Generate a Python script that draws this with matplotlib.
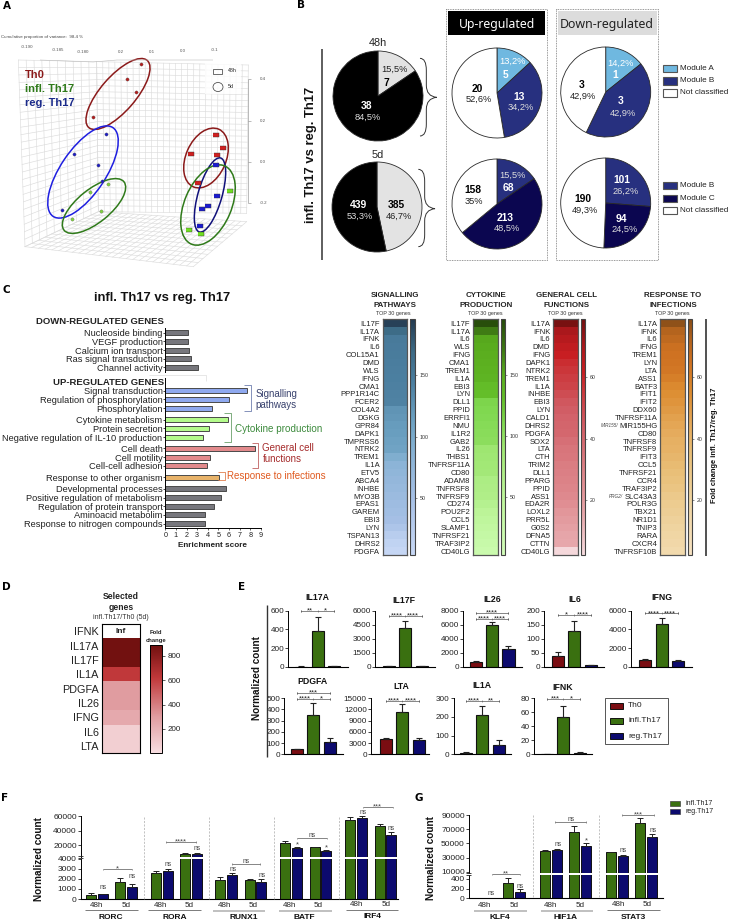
import matplotlib
matplotlib.use('Agg')
import matplotlib.pyplot as plt
from matplotlib.colors import LinearSegmentedColormap, Normalize
from matplotlib.patches import Ellipse, PathPatch, Rectangle
from matplotlib.path import Path
import numpy as np

plt.rcParams['font.family'] = ['Liberation Sans', 'DejaVu Sans']

# ---- panel A, PCA points (plot units)
pca_th0_5d = [(141, 64), (127, 79), (136, 92), (93, 117)]
pca_reg_5d = [(106, 134), (74, 154), (98, 165), (102, 181), (62, 210)]
pca_inf_5d = [(108, 184), (90, 192), (101, 211), (72, 219)]
pca_th0_48 = [(216, 135), (223, 148), (191, 154), (217, 155), (198, 183)]
pca_reg_48 = [(216, 165), (217, 196), (202, 209), (208, 206), (200, 226)]
pca_inf_48 = [(230, 191), (189, 230), (201, 234)]

# ---- panel B
pie_left_48 = [7, 38]
pie_left_5d = [385, 439]
pie_up_48 = [5, 13, 20]
pie_up_5d = [68, 213, 158]
pie_down_48 = [1, 3, 3]
pie_down_5d = [101, 94, 190]

# ---- panel C enrichment
down_terms = ['Nucleoside binding', 'VEGF production', 'Calcium ion transport', 'Ras signal transduction', 'Channel activity']
down_scores = [2.1, 2.16, 2.2, 2.45, 3.07]
signal_terms = ['Signal transduction', 'Regulation of phosphorylation', 'Phosphorylation']
signal_scores = [7.65, 5.96, 4.36]
cyto_terms = ['Cytokine metabolism', 'Protein secretion', 'Negative regulation of IL-10 production']
cyto_scores = [5.9, 4.14, 3.57]
cell_terms = ['Cell death', 'Cell motility', 'Cell-cell adhesion']
cell_scores = [8.43, 4.17, 3.95]
infect_terms = ['Response to other organism']
infect_scores = [5.08]
other_terms = ['Developmental processes', 'Positive regulation of metabolism', 'Regulation of protein transport', 'Aminoacid metabolim', 'Response to nitrogen compounds']
other_scores = [5.7, 5.24, 4.55, 3.73, 3.7]

# ---- panel C heatmaps
genes_signal = ['IL17F', 'IL17A', 'IFNK', 'IL6', 'COL15A1', 'DMD', 'WLS', 'IFNG', 'CMA1', 'PPP1R14C', 'FCER2', 'COL4A2', 'DGKG', 'GPR84', 'DAPK1', 'TMPRSS6', 'NTRK2', 'TREM1', 'IL1A', 'ETV5', 'ABCA4', 'INHBE', 'MYO3B', 'EPAS1', 'GAREM', 'EBI3', 'LYN', 'TSPAN13', 'DHRS2', 'PDGFA']
fold_signal = [192, 168, 150, 148, 147, 146, 145, 144, 143, 142, 141, 125, 122, 118, 116, 112, 110, 95, 80, 76, 72, 68, 64, 60, 56, 52, 40, 25, 14, 8]
genes_cyto = ['IL17F', 'IL17A', 'IL6', 'WLS', 'IFNG', 'CMA1', 'TREM1', 'IL1A', 'EBI3', 'LYN', 'DLL1', 'PPID', 'ERRFI1', 'NMU', 'IL1R2', 'GAB2', 'IL26', 'THBS1', 'TNFRSF11A', 'CD80', 'ADAM8', 'TNFRSF8', 'TNFRSF9', 'CD274', 'POU2F2', 'CCL5', 'SLAMF1', 'TNFRSF21', 'TRAF3IP2', 'CD40LG']
fold_cyto = [192, 170, 152, 150, 148, 146, 144, 142, 132, 130, 112, 110, 108, 106, 104, 102, 90, 88, 86, 84, 72, 70, 68, 60, 52, 46, 40, 34, 28, 22]
genes_cell = ['IL17A', 'IFNK', 'IL6', 'DMD', 'IFNG', 'DAPK1', 'NTRK2', 'TREM1', 'IL1A', 'INHBE', 'EBI3', 'LYN', 'CALD1', 'DHRS2', 'PDGFA', 'SOX2', 'LTA', 'CTH', 'TRIM2', 'DLL1', 'PPARG', 'PPID', 'ASS1', 'EDA2R', 'LOXL2', 'PRR5L', 'G0S2', 'DFNA5', 'CTTN', 'CD40LG']
fold_cell = [78, 70, 67, 64, 62, 58, 56, 54, 52, 49, 46, 44, 42, 41, 40, 37, 35, 34, 32, 31, 30, 29, 27, 25, 22, 20, 18, 16, 15, 3]
genes_infect = ['IL17A', 'IFNK', 'IL6', 'IFNG', 'TREM1', 'LYN', 'LTA', 'ASS1', 'BATF3', 'IFIT1', 'IFIT2', 'DDX60', 'TNFRSF11A', 'MIR155HG', 'CD80', 'TNFRSF8', 'TNFRSF9', 'IFIT3', 'CCL5', 'TNFRSF21', 'CCR4', 'TRAF3IP2', 'SLC43A3', 'POLR3G', 'TBX21', 'NR1D1', 'TNIP3', 'RARA', 'CXCR4', 'TNFRSF10B']
fold_infect = [78, 72, 69, 66, 65, 64, 63, 60, 56, 54, 52, 50, 48, 46, 44, 42, 41, 39, 37, 35, 33, 31, 28, 26, 24, 22, 20, 18, 16, 13]

# ---- panel D
genes_selected = ['IFNK', 'IL17A', 'IL17F', 'IL1A', 'PDGFA', 'IL26', 'IFNG', 'IL6', 'LTA']
fold_selected = [np.nan, 880, 880, 620, 300, 300, 240, 70, 70]

# ---- panel E
e_genes = ['IL17A', 'IL17F', 'IL26', 'IL6', 'IFNG', 'PDGFA', 'LTA', 'IL1A', 'IFNK']
e_th0 = [2, 30, 700, 40, 750, 45, 4000, 8, 0]
e_th0_err = [1, 10, 100, 13, 50, 4, 300, 4, 0]
e_inf = [380, 4150, 5950, 127, 4550, 350, 11300, 210, 53]
e_inf_err = [155, 780, 500, 38, 630, 105, 2000, 45, 15]
e_reg = [6, 40, 2550, 5, 580, 105, 3700, 50, 2]
e_reg_err = [2, 10, 450, 2, 100, 37, 700, 25, 1]
e_yticks = [[0, 200, 400, 600], [0, 1500, 3000, 4500, 6000], [0, 2000, 4000, 6000, 8000], [0, 50, 100, 150, 200], [0, 2000, 4000, 6000],
            [0, 100, 200, 300, 400, 500], [0, 3000, 6000, 9000, 12000, 15000], [0, 100, 200, 300], [0, 20, 40, 60, 80]]
e_sig_y = [600, 5430, 6760, 185, 5710, 491, 14100, 282, 79]
e_sig_labels = [('**', '*'), ('****', '****'), ('****', '****'), ('*', '****'), ('****', '****'), ('****', '*'), ('****', '****'), ('****', '**'), ('***', '*')]

# ---- panel F, order in each gene: 48h infl, 48h reg, 5d infl, 5d reg
f_genes = ['RORC', 'RORA', 'RUNX1', 'BATF', 'IRF4']
f_values = [[400, 460, 1700, 1210], [2520, 2720, 7800, 7900], [1840, 2330, 1840, 1700], [22400, 16000, 17000, 12000], [54700, 56600, 45700, 34200]]
f_errs = [[160, 60, 400, 230], [270, 200, 800, 700], [290, 190, 160, 230], [3200, 1800, 500, 1300], [4100, 3500, 2700, 3800]]
f_yticks_low = [0, 1000, 2000, 3000, 4000]
f_yticks_up = [20000, 40000, 60000]

# ---- panel G
g_genes = ['KLF4', 'HIF1A', 'STAT3']
g_values = [[8, 8, 310, 138], [39200, 40000, 65600, 45800], [37400, 32600, 78300, 58500]]
g_errs = [[2, 2, 118, 48], [1500, 1500, 8400, 5200], [700, 500, 7000, 4200]]
g_yticks_low = [0, 200, 400]
g_yticks_up = [10000, 30000, 50000, 70000, 90000]

W, H = 732, 922
C_TH0, C_INF, C_REG = '#7a0d12', '#3a7010', '#0c0a6e'
MOD_A, MOD_B, MOD_C = '#6fb8e0', '#27307f', '#0b0650'
TXT = '#222222'

fig = plt.figure(figsize=(W / 100, H / 100), dpi=100)


def ax_px(left, top, right, bottom, **kw):
    return fig.add_axes([left / W, 1 - bottom / H, (right - left) / W, (bottom - top) / H], **kw)


# overlay in pixel coordinates for the annotations
page = ax_px(0, 0, W, H, zorder=20)
page.set_xlim(0, W)
page.set_ylim(H, 0)
page.axis('off')
page.patch.set_alpha(0)


def txt(x, y, s, size=6, color=TXT, ha='center', va='center', **kw):
    page.text(x, y, s, fontsize=size, color=color, ha=ha, va=va, **kw)


def seg(xs, ys, color='#333333', lw=0.7, **kw):
    page.plot(xs, ys, color=color, lw=lw, solid_capstyle='butt', **kw)


for letter, lx, ly in [('A', 7, 6), ('B', 301, 5), ('C', 6, 290), ('D', 6, 587), ('E', 242, 587), ('F', 5, 798), ('G', 419, 798)]:
    txt(lx, ly, letter, size=7.5, color='black', fontweight='bold', family='DejaVu Sans')

# ------------------------------------------------------------- A
pca = ax_px(0, 0, 290, 280, zorder=1)
pca.set_xlim(0, 290)
pca.set_ylim(280, 0)
pca.axis('off')


def wall(corners, nu, nv):
    c = np.array(corners, dtype=float) / 3
    for u in np.linspace(0, 1, nu):
        a = c[0] + (c[1] - c[0]) * u
        b = c[3] + (c[2] - c[3]) * u
        pca.plot([a[0], b[0]], [a[1], b[1]], color='#dcdcdc', lw=0.45)
    for v in np.linspace(0, 1, nv):
        a = c[0] + (c[3] - c[0]) * v
        b = c[1] + (c[2] - c[1]) * v
        pca.plot([a[0], b[0]], [a[1], b[1]], color='#dcdcdc', lw=0.45)


wall([(55, 180), (290, 185), (295, 635), (75, 740)], 11, 26)
wall([(290, 185), (745, 195), (740, 640), (295, 635)], 26, 26)
wall([(295, 635), (740, 665), (580, 800), (75, 740)], 26, 12)

for (cx, cy, w, h, ang, col) in [(118, 94, 89, 35, -49, '#8b1a1a'), (83, 172, 107, 45, -56, '#1f1fe0'), (94, 206, 77, 33, -39, '#2f7a1a'),
                                 (206, 158, 63, 40, -66, '#8b1a1a'), (210, 195, 77, 24, -74, '#10107a'), (208, 205, 85, 47, -67, '#2f7a1a')]:
    pca.add_patch(Ellipse((cx, cy), w, h, angle=ang, fill=False, edgecolor=col, lw=1.1, zorder=4))

flat_box = [(-1, -0.7), (1, -0.7), (1, 0.7), (-1, 0.7)]
for pts, col in [(pca_th0_5d, '#b02020'), (pca_reg_5d, '#2020c0'), (pca_inf_5d, '#80d040')]:
    pca.scatter(*zip(*pts), s=5.5, color=col, edgecolors='#555555', linewidths=0.2, zorder=5)
for pts, col in [(pca_th0_48, '#d02020'), (pca_reg_48, '#1a1ad0'), (pca_inf_48, '#70e020')]:
    pca.scatter(*zip(*pts), s=15, marker=flat_box, color=col, edgecolors='#333333', linewidths=0.3, zorder=5)

txt(1, 37, 'Cumulative proportion of variance:  98.4 %', size=3.2, ha='left', color='#444444')
for tx, ty, s in [(27, 47, '-0.190'), (58, 50, '-0.185'), (83, 52, '-0.180'), (121, 52, '0.2'), (152, 52, '0.1'), (183, 51, '0.0'), (215, 50, '-0.1')]:
    txt(tx, ty, s, size=3.2, color='#555555')
for ty, s in [(79, '0.4'), (121, '0.2'), (162, '0.0'), (203, '-0.2')]:
    txt(260, ty, s, size=3.2, ha='left', color='#555555')
    seg([248, 251], [ty, ty], color='#888888', lw=0.4)
seg([248, 248], [79, 203], color='#888888', lw=0.4)
seg([40, 93, 117, 213], [60, 62, 60, 60], color='#bbbbbb', lw=0.4)
page.add_patch(Rectangle((205, 62), 36, 32, color='white', alpha=0.8, lw=0))
page.add_patch(Rectangle((213, 69), 9, 5, fill=False, edgecolor='#333333', lw=0.5))
page.add_patch(Ellipse((218, 87), 10, 9, fill=False, edgecolor='#333333', lw=0.5))
txt(228, 71, '48h', size=3.8, ha='left')
txt(228, 87, '5d', size=3.8, ha='left')
txt(25, 75, 'Th0', size=8, ha='left', color='#8b1a1a', fontweight='bold')
txt(25, 89, 'infl. Th17', size=8, ha='left', color='#2f7a1a', fontweight='bold')
txt(25, 103.5, 'reg. Th17', size=8, ha='left', color='#1a2a8a', fontweight='bold')


# ------------------------------------------------------------- B
def z2(x, y):
    return 290 + x / 3, y / 3


def pie(cx, cy, values, colors):
    r = 45 * 1.04
    ax = ax_px(cx - r, cy - r, cx + r, cy + r, zorder=2)
    ax.pie(values, colors=colors, startangle=90, counterclock=False, radius=1,
           wedgeprops={'edgecolor': '#2a2a2a', 'linewidth': 0.6})
    ax.set_xlim(-1.04, 1.04)
    ax.set_ylim(-1.04, 1.04)


pie(378, 96, pie_left_48, ['#e3e3e3', 'black'])
pie(377, 207, pie_left_5d, ['#e3e3e3', 'black'])
pie(497, 93, pie_up_48, [MOD_A, MOD_B, 'white'])
pie(497, 204, pie_up_5d, [MOD_B, MOD_C, 'white'])
pie(605.7, 92, pie_down_48, [MOD_A, MOD_B, 'white'])
pie(605.7, 203, pie_down_5d, [MOD_B, MOD_C, 'white'])

LG = '#dddddd'
pie_labels = [
    (314, 208, '15,5%', 0, '#222222'), (290, 250, '7', 1, 'black'), (229, 318, '38', 1, 'white'), (234, 353, '84,5%', 0, LG),
    (205, 615, '439', 1, 'white'), (208, 650, '53,3%', 0, LG), (320, 615, '385', 1, 'black'), (328, 650, '46,7%', 0, '#222222'),
    (668, 185, '13,2%', 0, 'white'), (647, 224, '5', 1, 'white'), (688, 292, '13', 1, 'white'), (693, 323, '34,2%', 0, LG),
    (561, 267, '20', 1, 'black'), (566, 297, '52,6%', 0, '#222222'),
    (992, 190, '14,2%', 0, 'white'), (975, 226, '1', 1, 'white'), (992, 302, '3', 1, 'white'), (998, 340, '42,9%', 0, LG),
    (875, 254, '3', 1, 'black'), (880, 290, '42,9%', 0, '#222222'),
    (668, 527, '15,5%', 0, LG), (656, 564, '68', 1, 'white'), (645, 654, '213', 1, 'white'), (652, 686, '48,5%', 0, LG),
    (548, 571, '158', 1, 'black'), (553, 604, '35%', 0, '#222222'),
    (996, 541, '101', 1, 'white'), (1006, 575, '26,2%', 0, LG), (995, 656, '94', 1, 'white'), (1003, 689, '24,5%', 0, LG),
    (880, 598, '190', 1, 'black'), (885, 631, '49,3%', 0, '#222222'),
]
for zx, zy, s, is_bold, col in pie_labels:
    px, py = z2(zx, zy)
    txt(px, py, s, size=7.4 if is_bold else 6.7, color=col, fontweight='bold' if is_bold else 'normal')

txt(*z2(265, 130), '48h', size=7.8)
txt(*z2(262, 465), '5d', size=7.8)
seg([322, 322], [49, 260], color='#333333', lw=1.1)
txt(311, 155, 'infl. Th17 vs reg. Th17', size=9.4, rotation=90, fontweight='bold', color='#111111')

for bx0, bx1 in [(445.7, 547.3), (555.7, 657.7)]:
    page.add_patch(Rectangle((bx0, 9), bx1 - bx0, 251, fill=False, edgecolor='#777777', lw=0.6, ls=(0, (1, 1))))
page.add_patch(Rectangle((448, 11), 97, 24, color='black', lw=0))
page.add_patch(Rectangle((558, 11), 98.7, 24, color='#dcdcdc', lw=0))
txt(496.5, 24.5, 'Up-regulated', size=8.8, color='white', family='Noto Sans')
txt(607, 24.5, 'Down-regulated', size=8.9, color='#222222', family='Noto Sans')


def brace(x0, x1, y0, y1, ytip):
    xm = (x0 + x1) / 2 - 2
    verts = [(x0, y0), (xm, y0), (xm, y0 + 12), (xm, ytip - 12), (xm, ytip - 1), (x1, ytip),
             (xm, ytip + 1), (xm, ytip + 12), (xm, y1 - 12), (xm, y1), (x0, y1)]
    codes = [Path.MOVETO, Path.CURVE3, Path.CURVE3, Path.LINETO, Path.CURVE3, Path.CURVE3,
             Path.CURVE3, Path.CURVE3, Path.LINETO, Path.CURVE3, Path.CURVE3]
    page.add_patch(PathPatch(Path(verts, codes), fill=False, edgecolor='#333333', lw=0.7))


brace(290 + 390 / 3, 290 + 440 / 3, 175 / 3, 408 / 3, 292 / 3)
brace(290 + 385 / 3, 290 + 435 / 3, 508 / 3, 740 / 3, 626 / 3)

for labels, cols, ys in [(['Module A', 'Module B', 'Not classified'], [MOD_A, MOD_B, 'white'], [205, 243, 279]),
                         (['Module B', 'Module C', 'Not classified'], [MOD_B, MOD_C, 'white'], [557, 595, 632])]:
    for lab, col, ly in zip(labels, cols, ys):
        lx0, ly0 = z2(1119, ly - 11)
        page.add_patch(Rectangle((lx0, ly0), 14.3, 7.3, facecolor=col, edgecolor='#555555', lw=0.8))
        txt(*z2(1170, ly), lab, size=5.9, ha='left')

# ------------------------------------------------------------- C bars
txt(161.7, 298, 'infl. Th17 vs reg. Th17', size=9.4, fontweight='bold', color='#111111')
txt(164, 321.3, 'DOWN-REGULATED GENES', size=6.8, ha='right', fontweight='bold')
txt(164, 382.7, 'UP-REGULATED GENES', size=6.8, ha='right', fontweight='bold')

groups = [(down_terms, down_scores, '#77777d', 0), (signal_terms, signal_scores, '#8fa9ef', 1.69), (cyto_terms, cyto_scores, '#b4fb8c', 0.35),
          (cell_terms, cell_scores, '#e28a8c', 0.31), (infect_terms, infect_scores, '#e8b36a', 0.31), (other_terms, other_scores, '#77777d', 0.35)]
row_h = 8.67
y_top, y_bot = 328.0, 527.5
bx = ax_px(165.3, y_top, 261, y_bot, zorder=3)
bx.set_xlim(0, 9)
bx.set_ylim((y_bot - 332.7) / row_h, (y_top - 332.7) / row_h)
rows, row_labels = [], []
r = 0.0
for terms, scores, col, gap in groups:
    r += gap
    gr = [r + i for i in range(len(terms))]
    bx.barh(gr, scores, height=0.58, color=col, edgecolor='#4a4a4a', linewidth=0.7)
    rows += gr
    row_labels += terms
    r = gr[-1] + 1
bx.set_yticks(rows)
bx.set_yticklabels(row_labels, fontsize=6.7, color=TXT)
bx.set_xticks(range(10))
bx.tick_params(axis='x', labelsize=5.2, length=1.5, width=0.5, pad=1.5, colors=TXT)
bx.tick_params(axis='y', length=1.5, width=0.5, pad=0.5)
for s in ['top', 'right']:
    bx.spines[s].set_visible(False)
for s in ['left', 'bottom']:
    bx.spines[s].set_linewidth(0.7)
page.add_patch(Rectangle((163, 372.5), 5, 5.5, color='white', lw=0))
seg([149, 205.5, 205.5], [375.5, 375.5, 381], color='#dddddd', lw=0.5)
txt(213, 545.5, 'Enrichment score', size=5.9, fontweight='bold')


def bracket3(x0, x1, y0, y1, col):
    seg([x0, x1, x1, x0], [y0, y0, y1, y1], color=col, lw=0.6)


bracket3(244, 250.5, 384.5, 411, '#7080b0')
txt(255.5, 393.5, 'Signalling', size=7, ha='left', color='#39426e')
txt(255.5, 405, 'pathways', size=7, ha='left', color='#39426e')
bracket3(224, 231, 413, 441.5, '#6aa06a')
txt(235, 429, 'Cytokine production', size=7.1, ha='left', color='#3c8a3c')
bracket3(251.5, 258, 442.5, 467.5, '#c06060')
txt(262.5, 448, 'General cell', size=7, ha='left', color='#a52a2a')
txt(262.5, 459, 'functions', size=7, ha='left', color='#a52a2a')
bracket3(217.5, 225, 471.5, 480, '#e08050')
txt(227, 476, 'Response to infections', size=7, ha='left', color='#e05a20')

# ------------------------------------------------------------- C heatmaps
heat_top, heat_bot = 319.3, 555.0


def anchored(anchors, vmin, vmax):
    pts = [((v - vmin) / (vmax - vmin), c) for v, c in anchors]
    return LinearSegmentedColormap.from_list('c', pts)


def heat_column(x0, x1, cx0, cx1, genes, fold, cmap, vmin, vmax, ticks, title, tcx):
    ax = ax_px(x0, heat_top, x1, heat_bot, zorder=3)
    norm = Normalize(vmin, vmax)
    mesh = ax.pcolormesh(np.array(fold, dtype=float).reshape(-1, 1), cmap=cmap, norm=norm)
    ax.set_ylim(len(genes), 0)
    ax.set_xticks([])
    ax.set_yticks(np.arange(len(genes)) + 0.5)
    ax.set_yticklabels(genes, fontsize=5.5, color=TXT)
    ax.tick_params(axis='y', length=0, pad=2.2)
    for s in ax.spines.values():
        s.set_linewidth(0.9)
        s.set_edgecolor('#555555')
    cax = ax_px(cx0, heat_top, cx1, heat_bot, zorder=3)
    cb = fig.colorbar(mesh, cax=cax, ticks=ticks)
    cb.ax.tick_params(labelsize=3.8, length=1.5, width=0.4, pad=2, colors='#333333')
    cb.outline.set_linewidth(0.8)
    cb.outline.set_edgecolor('#444444')
    txt(tcx, 295.7, title[0], size=5.7, fontweight='bold', color='#222222')
    txt(tcx, 305.3, title[1], size=5.7, fontweight='bold', color='#222222')
    txt(tcx - 1, 313.8, 'TOP 30 genes', size=3.9, color='#333333')


cm_signal = anchored([(3, '#c8d8f5'), (50, '#a6c0e6'), (95, '#80aecf'), (115, '#6a9fc0'), (145, '#4b7e9f'), (170, '#3c6a85'), (196, '#243a50')], 3, 196)
cm_cyto = anchored([(3, '#d2fdba'), (50, '#bdf59a'), (90, '#9fe672'), (110, '#80d850'), (130, '#64be2a'), (150, '#5aad1e'), (170, '#3f7b14'), (195, '#264a0a')], 3, 195)
cm_cell = anchored([(2, '#f6dcdf'), (15, '#e7a7ab'), (30, '#dc8287'), (45, '#d05a62'), (55, '#cc3a3e'), (62, '#c81e22'), (70, '#ac181c'), (79, '#721010')], 2, 79)
cm_infect = anchored([(2, '#f6e2c2'), (20, '#efd4a0'), (35, '#e9bf78'), (45, '#e5a95a'), (55, '#dc8c30'), (65, '#cf7222'), (72, '#b4641e'), (79, '#8a4e18')], 2, 79)

heat_column(382.7, 407, 410.3, 414.7, genes_signal, fold_signal, cm_signal, 3, 196, [50, 100, 150], ('SIGNALLING', 'PATHWAYS'), 394.7)
heat_column(473.3, 497.7, 500.7, 505, genes_cyto, fold_cyto, cm_cyto, 3, 195, [50, 100, 150], ('CYTOKINE', 'PRODUCTION'), 486)
heat_column(553.3, 577.7, 581, 585, genes_cell, fold_cell, cm_cell, 2, 79, [20, 40, 60], ('GENERAL CELL', 'FUNCTIONS'), 566.7)
heat_column(660.3, 684.7, 687.7, 691.7, genes_infect, fold_infect, cm_infect, 2, 79, [20, 40, 60], ('RESPONSE TO', 'INFECTIONS'), 673)
txt(618.3, 319.3 + 13.5 * 7.87, 'MIR155/', size=3.3, ha='right', style='italic', color='#444444')
txt(623.3, 319.3 + 22.5 * 7.87, 'PRG2/', size=3.3, ha='right', style='italic', color='#444444')
seg([706, 706], [319, 556], color='#222222', lw=1.1)
txt(714, 445, 'Fold change infl. Th17/reg. Th17', size=5.4, rotation=90, fontweight='bold', color='#111111')

# ------------------------------------------------------------- D
dx = ax_px(102.3, 624, 140.3, 753.3, zorder=3)
cm_d = anchored([(0, '#f8dee1'), (300, '#e09ca0'), (620, '#c0383a'), (888, '#70100f')], 0, 888)
md = dx.pcolormesh(np.array(fold_selected).reshape(-1, 1), cmap=cm_d, norm=Normalize(0, 888))
dx.set_ylim(len(genes_selected), 0)
dx.set_xticks([])
dx.set_yticks(np.arange(len(genes_selected)) + 0.5)
dx.set_yticklabels(genes_selected, fontsize=7.8, color=TXT)
dx.tick_params(axis='y', length=0, pad=2.5)
for s in dx.spines.values():
    s.set_linewidth(0.8)
dcax = ax_px(150.3, 645, 162, 753.3, zorder=3)
dcb = fig.colorbar(md, cax=dcax, ticks=[200, 400, 600, 800])
dcb.ax.tick_params(labelsize=5.8, length=2, width=0.5, pad=2, colors=TXT)
dcb.outline.set_linewidth(0.7)
txt(120.7, 631, 'Inf', size=6, fontweight='bold')
txt(120.7, 596, 'Selected', size=6.2, fontweight='bold')
txt(120.7, 607, 'genes', size=6.2, fontweight='bold')
txt(120.7, 617.3, 'infl.Th17/Th0 (5d)', size=5, color='#333333')
txt(156, 632, 'Fold', size=4.2, fontweight='bold')
txt(156, 640, 'change', size=4.2, fontweight='bold')

# ------------------------------------------------------------- E
# left spine, right end, first bar centre, y of top tick, y of zero
e_layout = [(288.3, 347.7, 301.3, 610.7, 666.7), (375, 434.7, 388.8, 610.7, 666.7), (463.3, 521.7, 475.7, 610.7, 666.7),
            (544.3, 604.3, 558, 610.7, 666.7), (631.3, 691.7, 645.3, 610.7, 666.7),
            (284.3, 343, 297, 698, 754.3), (371, 429.3, 386, 698, 754.3), (453.7, 510.7, 466, 698, 754.3), (534, 591.7, 547, 698, 754.3)]
e_titles = [(317.7, 597.7), (404.3, 600), (492, 599), (574.7, 599), (661.7, 597), (313, 681.7), (401.7, 686.7), (482.3, 685), (562.3, 687.7)]


def star_note(ax, s, x, y):
    ax.annotate(s, (x, y), ha='center', va='center', fontsize=5.6, color=TXT, annotation_clip=False)


def small_sig(ax, x0, x1, y, labels=None, single=None):
    ax.plot([x0, x1], [y, y], color='#555555', lw=0.5, clip_on=False)
    for xv in (x0, x1):
        ax.plot([xv, xv], [y, y], marker='|', ms=1.8, mew=0.4, color='#555555', clip_on=False)
    mid = (x0 + x1) / 2
    if labels:
        ax.plot([mid], [y], marker='|', ms=1.8, mew=0.4, color='#555555', clip_on=False)
        star_note(ax, labels[0], (x0 + mid) / 2, y)
        star_note(ax, labels[1], (mid + x1) / 2, y)
    if single:
        star_note(ax, single, mid, y)


for i, gene in enumerate(e_genes):
    left, right, first, top, zero = e_layout[i]
    ax = ax_px(left, top, right, zero, zorder=3)
    ax.patch.set_alpha(0)
    ax.bar([0, 1, 2], [e_th0[i], e_inf[i], e_reg[i]], width=0.74, color=[C_TH0, C_INF, C_REG], edgecolor='#111111', linewidth=0.8,
           yerr=[[0, 0, 0], [e_th0_err[i], e_inf_err[i], e_reg_err[i]]], error_kw={'ecolor': '#222222', 'elinewidth': 0.8, 'capsize': 2.2, 'capthick': 0.8})
    ax.set_xlim((left - first) / 16.4, (right - first) / 16.4)
    ax.set_ylim(0, e_yticks[i][-1])
    ax.set_yticks(e_yticks[i])
    ax.set_xticks([])
    ax.tick_params(axis='y', labelsize=5.9, length=2, width=0.6, pad=1, colors=TXT)
    for s in ['top', 'right']:
        ax.spines[s].set_visible(False)
    ax.spines['left'].set_linewidth(0.7)
    ax.spines['bottom'].set_linewidth(0.8)
    small_sig(ax, 0, 2, e_sig_y[i], labels=e_sig_labels[i])
    if gene == 'IL26':
        small_sig(ax, 0, 2, 7710, single='****')
    if gene == 'PDGFA':
        small_sig(ax, 0, 2, 547, single='***')
    txt(e_titles[i][0], e_titles[i][1], gene, size=6.3, fontweight='bold', color='#111111')

seg([266.7, 266.7], [605, 756.7], color='#333333', lw=1.0)
txt(257.3, 678, 'Normalized count', size=7.2, rotation=90, fontweight='bold', color='#111111')
page.add_patch(Rectangle((605, 698), 62.7, 46.3, facecolor='white', edgecolor='#555555', lw=0.7))
for lab, col, ly in [('Th0', C_TH0, 705.5), ('infl.Th17', C_INF, 720.5), ('reg.Th17', C_REG, 736)]:
    page.add_patch(Rectangle((610, ly - 3), 12.7, 6, facecolor=col, edgecolor='#111111', lw=0.7))
    txt(628.3, ly, lab, size=6, ha='left')


# ------------------------------------------------------------- F, G
def broken_panel(left, right, top, up_bot, low_top, zero, up_lim, low_lim, tick_up, tick_low, starts, pitch, offs, values, errs, width):
    up = ax_px(left, top, right, up_bot, zorder=3)
    low = ax_px(left, low_top, right, zero, zorder=3)
    xs, vals, es, cols = [], [], [], []
    for g, (vv, ee) in enumerate(zip(values, errs)):
        for o, v, e, c in zip(offs, vv, ee, [C_INF, C_REG, C_INF, C_REG]):
            xs.append(starts + g * pitch + o)
            vals.append(v)
            es.append(e)
            cols.append(c)
    for ax in (up, low):
        ax.patch.set_alpha(0)
        ax.bar(xs, vals, width=width, color=cols, edgecolor='#111111', linewidth=0.7,
               yerr=[[0] * len(es), es], error_kw={'ecolor': '#222222', 'elinewidth': 0.7, 'capsize': 1.9, 'capthick': 0.7})
        ax.set_xlim(left, right)
        ax.set_xticks([])
        ax.tick_params(axis='y', labelsize=6, length=2, width=0.6, pad=1, colors=TXT)
        ax.spines['top'].set_visible(False)
        ax.spines['right'].set_visible(False)
        ax.spines['left'].set_linewidth(0.7)
    up.spines['bottom'].set_visible(False)
    up.set_ylim(*up_lim)
    low.set_ylim(*low_lim)
    up.set_yticks(tick_up)
    low.set_yticks(tick_low)
    low.spines['bottom'].set_linewidth(0.8)
    return up, low


broken_panel(81, 398, 816, 856.8, 858.5, 899, (4000, 60000), (0, 4000), f_yticks_up, f_yticks_low, 272 / 3, 64.9, [0, 12, 29.3, 41], f_values, f_errs, 10)
broken_panel(469, 663.3, 815, 873, 874.5, 898.3, (8150, 90000), (0, 493), g_yticks_up, g_yticks_low, 479, 66, [0, 11.7, 29.3, 41.3], g_values, g_errs, 10)
seg([78, 83], [856.3, 856.3], lw=0.6, color='#222222')
seg([78, 83], [858.0, 858.0], lw=0.6, color='#222222')
seg([466, 471], [873.0, 873.0], lw=0.6, color='#222222')
seg([466, 471], [874.6, 874.6], lw=0.6, color='#222222')


def zf(x, y):
    return x / 3, 730 + y / 3


def zg(x, y):
    return 400 + x / 3, 730 + y / 3


def panel_marks(conv, seps, sep_y, xlabels, glines, names, brackets, singles):
    for sx in seps:
        p0 = conv(sx, sep_y[0])
        p1 = conv(sx, sep_y[1])
        page.plot([p0[0], p1[0]], [p0[1], p1[1]], color='#aaaaaa', lw=0.5, ls=(0, (3, 2)))
    for lx, ly, s in xlabels:
        txt(*conv(lx, ly), s, size=5.8)
    for x0, x1, ly, col, lw in glines:
        a, b = conv(x0, ly), conv(x1, ly)
        seg([a[0], b[0]], [a[1], b[1]], color=col, lw=lw)
    for lx, ly, s in names:
        txt(*conv(lx, ly), s, size=6, fontweight='bold', color='#111111')
    for x0, x1, by, s in brackets:
        a, b = conv(x0, by), conv(x1, by)
        seg([a[0], b[0]], [a[1], b[1]], color='#555555', lw=0.5)
        seg([a[0], a[0]], [a[1] - 0.8, a[1] + 0.8], color='#555555', lw=0.4)
        seg([b[0], b[0]], [b[1] - 0.8, b[1] + 0.8], color='#555555', lw=0.4)
        if '*' in s:
            txt((a[0] + b[0]) / 2, a[1] - 0.3, s, size=5.6, color='#444444')
        else:
            txt((a[0] + b[0]) / 2, a[1] - 3, s, size=4.8, color='#444444')
    for lx, ly, s in singles:
        txt(*conv(lx, ly), s, size=5.6 if s == '*' else 4.8, color='#444444')


panel_marks(zf, [431, 626, 821, 1016], (260, 507),
            [(290, 527, '48h'), (377, 527, '5d'), (482, 527, '48h'), (568, 527, '5d'), (672, 527, '48h'), (758, 527, '5d'),
             (868, 527, '48h'), (955, 527, '5d'), (1070, 524, '48h'), (1157, 524, '5d')],
            [(255, 413, 541, '#666666', 0.6), (445, 603, 541, '#666666', 0.6), (639, 795, 542, '#bbbbbb', 1.3), (838, 995, 542, '#bbbbbb', 1.3), (1038, 1195, 541, '#666666', 0.6)],
            [(333, 562, 'RORC'), (523, 562, 'RORA'), (730, 562, 'RUNX1'), (914, 562, 'BATF'), (1117, 560, 'IRF4')],
            [(310, 395, 418, '*'), (498, 587, 336, '****'), (695, 779, 402, 'ns'), (892, 980, 325, 'ns'), (1089, 1178, 232, '***')],
            [(310, 473, 'ns'), (395, 438, 'ns'), (504, 404, 'ns'), (591, 354, 'ns'), (698, 418, 'ns'), (786, 436, 'ns'),
             (893, 346, '*'), (980, 354, '*'), (1090, 247, 'ns'), (1174, 294, 'ns')])
panel_marks(zg, [398, 598], (255, 505),
            [(254, 525, '48h'), (341, 525, '5d'), (452, 525, '48h'), (539, 525, '5d'), (654, 522, '48h'), (741, 522, '5d')],
            [(222, 380, 542, '#bbbbbb', 1.3), (422, 578, 542, '#bbbbbb', 1.3), (622, 779, 541, '#666666', 0.6)],
            [(300, 563, 'KLF4'), (498, 563, 'HIF1A'), (700, 561, 'STAT3')],
            [(277, 361, 433, '**'), (466, 559, 276, 'ns'), (667, 761, 255, '***')],
            [(273, 491, 'ns'), (361, 468, 'ns'), (473, 343, 'ns'), (560, 334, '*'), (670, 362, 'ns'), (760, 302, 'ns')])
txt(39, 859.3, 'Normalized count', size=7.2, rotation=90, fontweight='bold', color='#111111')
txt(430.7, 857.7, 'Normalized count', size=7.2, rotation=90, fontweight='bold', color='#111111')
for lab, col, ly in [('infl.Th17', C_INF, 803.3), ('reg.Th17', C_REG, 811.8)]:
    page.add_patch(Rectangle((670, ly - 2.5), 10, 5, facecolor=col, edgecolor='#444444', lw=0.5))
    txt(685, ly, lab, size=5, ha='left')

fig.savefig('out.png', dpi=100, facecolor='white')
